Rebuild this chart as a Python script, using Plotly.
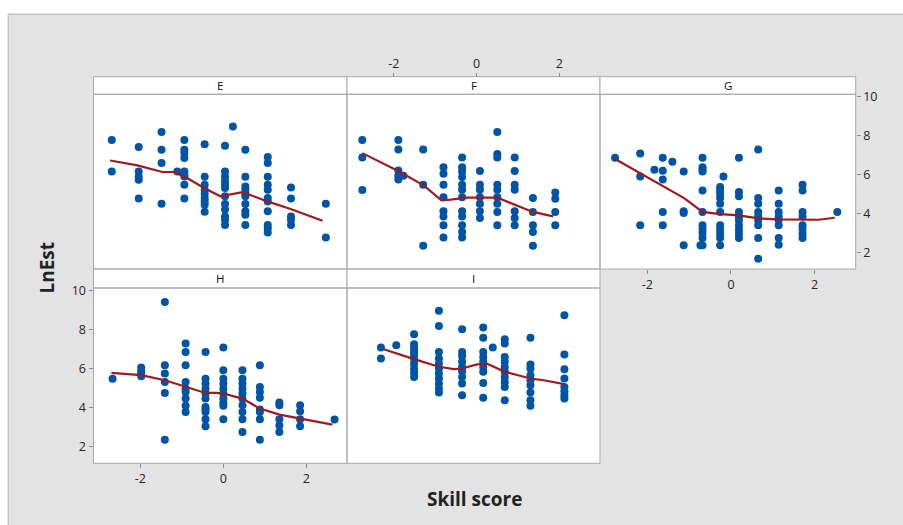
import plotly.graph_objects as go

W, H = 903, 525

# ---------------- data ----------------
panel_names = ["E", "F", "G", "H", "I"]

E_cols = [-2.69, -2.04, -1.49, -1.11, -0.94, -0.45, 0.04, 0.23, 0.53, 1.07, 1.63, 2.47]
E_vals = [
    [7.78, 6.17],
    [7.42, 6.17, 5.91, 5.74, 4.78],
    [8.19, 7.28, 6.60, 4.51],
    [6.17],
    [7.78, 7.28, 7.11, 6.86, 6.17, 6.00, 5.91, 5.49, 4.78],
    [7.57, 5.90, 5.49, 5.23, 5.03, 4.80, 4.63, 4.46, 4.10],
    [7.49, 6.17, 5.91, 5.66, 5.49, 5.32, 4.89, 4.50, 4.21, 3.86, 3.69, 3.42],
    [8.48],
    [7.28, 5.90, 5.40, 5.23, 5.03, 4.89, 4.50, 4.12, 3.95, 3.42],
    [6.91, 6.60, 5.90, 5.49, 5.23, 4.80, 4.63, 4.12, 3.42, 3.25, 3.03],
    [5.35, 4.78, 3.86, 3.69, 3.42],
    [4.51, 2.78],
]
E_fit_x = [-2.73, -2.07, -1.47, -1.19, -0.87, -0.47, -0.07, 0.18, 0.46, 1.06, 1.62, 2.39]
E_fit_y = [6.73, 6.48, 6.14, 6.14, 5.83, 5.32, 4.89, 4.98, 5.11, 4.63, 4.24, 3.64]

F_cols = [-2.76, -1.89, -1.77, -1.29, -0.80, -0.35, 0.08, 0.50, 0.92, 1.36, 1.90]
F_vals = [
    [7.78, 6.89, 5.21],
    [7.78, 7.30, 6.22, 5.95, 5.76],
    [5.95],
    [7.30, 5.49, 2.36],
    [6.39, 6.05, 5.49, 4.84, 4.12, 3.86, 3.40, 2.78],
    [6.89, 6.39, 6.17, 5.88, 5.49, 5.23, 4.84, 4.12, 3.86, 3.40, 3.06, 2.78],
    [6.19, 5.49, 5.23, 4.84, 4.51, 4.12, 3.78],
    [8.19, 7.06, 6.89, 5.49, 5.23, 4.84, 4.51, 4.09, 3.40],
    [6.89, 6.19, 5.49, 5.23, 4.12, 3.78, 3.40],
    [4.80, 4.09, 3.40, 3.06, 2.36],
    [5.09, 4.77, 4.09, 3.40],
]
F_fit_x = [-2.76, -1.87, -1.27, -0.85, -0.63, -0.23, 0.50, 0.92, 1.36, 1.85]
F_fit_y = [7.11, 6.17, 5.44, 4.68, 4.72, 4.82, 4.82, 4.46, 4.09, 3.86]

G_cols = [-2.77, -2.17, -1.83, -1.63, -1.40, -1.13, -0.73, -0.68, -0.26, -0.18, 0.19, 0.65, 1.14, 1.71, 2.54]
G_vals = [
    [6.87],
    [7.09, 5.91, 3.40],
    [6.26],
    [6.87, 6.21, 5.76, 4.09, 3.40],
    [6.67],
    [6.17, 4.12, 4.04, 2.38],
    [2.38],
    [6.87, 6.39, 6.26, 6.17, 5.19, 4.09, 3.40, 3.22, 3.01, 2.75, 2.38],
    [5.37, 5.19, 5.03, 4.80, 4.51, 4.09, 3.40, 3.18, 2.97, 2.75, 2.38],
    [5.91],
    [6.87, 5.11, 4.89, 4.09, 3.86, 3.66, 3.40, 3.18, 2.97, 2.75],
    [7.30, 4.80, 4.51, 4.09, 3.86, 3.66, 3.40, 2.75, 1.68],
    [5.19, 4.51, 4.09, 3.86, 3.66, 3.40, 2.75, 2.41],
    [5.49, 5.19, 4.09, 3.86, 3.40, 3.22, 2.97, 2.75],
    [4.09],
]
G_fit_x = [-2.77, -2.17, -1.63, -1.12, -0.68, -0.26, 0.19, 0.65, 1.14, 1.71, 2.09, 2.48]
G_fit_y = [6.81, 6.09, 5.40, 4.80, 4.09, 3.98, 3.91, 3.76, 3.71, 3.71, 3.69, 3.79]

H_cols = [-2.67, -1.98, -1.41, -0.91, -0.43, 0.00, 0.46, 0.88, 1.35, 1.85, 2.68]
H_vals = [
    [5.48],
    [6.06, 5.87, 5.75, 5.61],
    [9.42, 6.18, 5.75, 5.32, 4.76, 2.36],
    [7.29, 6.86, 6.18, 5.32, 4.98, 4.81, 4.47, 4.10, 3.79],
    [6.86, 5.49, 5.24, 4.98, 4.73, 4.47, 4.04, 3.92, 3.79, 3.41, 3.05],
    [7.08, 5.92, 5.49, 5.24, 4.98, 4.73, 4.47, 4.27, 4.10, 3.41],
    [5.92, 5.49, 5.24, 4.98, 4.73, 4.47, 4.13, 3.79, 3.41, 2.76],
    [6.18, 5.07, 4.81, 4.52, 3.91, 3.79, 3.41, 2.36],
    [4.27, 4.13, 3.41, 3.10, 2.76],
    [4.13, 3.82, 3.41, 3.05],
    [3.40],
]
H_fit_x = [-2.70, -1.98, -1.41, -0.91, -0.43, -0.15, 0.00, 0.46, 0.88, 1.35, 1.85, 2.63]
H_fit_y = [5.79, 5.67, 5.41, 5.07, 4.76, 4.76, 4.73, 4.47, 3.96, 3.65, 3.45, 3.14]

I_cols = [-2.31, -1.94, -1.51, -0.91, -0.35, 0.16, 0.39, 0.68, 1.30, 2.12]
I_vals = [
    [7.08, 6.52],
    [7.20],
    [7.76, 7.25, 7.08, 6.90, 6.73, 6.52, 6.27, 6.01, 5.81, 5.58],
    [8.96, 8.19, 6.86, 6.52, 6.27, 6.01, 5.75, 5.50, 5.24, 4.99, 4.78],
    [8.02, 6.86, 6.65, 6.35, 6.09, 5.87, 5.58, 5.24, 4.64],
    [8.11, 7.58, 6.86, 6.60, 6.35, 6.09, 5.84, 5.27, 4.51],
    [7.08],
    [7.51, 7.29, 6.60, 6.35, 6.09, 5.84, 5.58, 5.32, 5.07, 4.39],
    [7.58, 6.21, 6.01, 5.67, 5.41, 5.16, 4.78, 4.39, 4.10],
    [8.74, 6.73, 5.97, 5.50, 5.07, 4.85, 4.64, 4.47],
]
I_fit_x = [-2.24, -1.94, -1.51, -0.91, -0.55, -0.35, 0.01, 0.26, 0.68, 1.30, 1.62, 2.12]
I_fit_y = [7.00, 6.78, 6.49, 6.10, 5.98, 6.01, 6.22, 6.25, 5.84, 5.50, 5.41, 5.21]

x_tickvals = [-2, 0, 2]
x_ticktext = ["-2", "0", "2"]
y_tickvals = [2, 4, 6, 8, 10]
y_ticktext = ["2", "4", "6", "8", "10"]

x_title = "Skill score"
y_title = "LnEst"

# ---------------- layout geometry (pixels) ----------------
X_RANGE = [-3.13, 2.98]
Y_RANGE = [1.16, 10.13]

col_px = [(93.5, 347.0), (347.0, 600.0), (600.0, 855.7)]
row_px = [(94.3, 269.0), (288.0, 463.3)]          # plot-area top, bottom
strip_px = [(76.7, 94.3), (269.0, 288.0)]          # strip top, bottom


def px_x(p):
    return p / W


def px_y(p):
    return 1 - p / H


panels = [
    ("E", E_cols, E_vals, E_fit_x, E_fit_y, 0, 0),
    ("F", F_cols, F_vals, F_fit_x, F_fit_y, 1, 0),
    ("G", G_cols, G_vals, G_fit_x, G_fit_y, 2, 0),
    ("H", H_cols, H_vals, H_fit_x, H_fit_y, 0, 1),
    ("I", I_cols, I_vals, I_fit_x, I_fit_y, 1, 1),
]

BLUE = "#0054a6"
RED = "#9b1b1f"
FRAME = "#a9a9a9"
TICKC = "#8c8c8c"
TXT = "#262626"
FONT = "Open Sans, Noto Sans, DejaVu Sans, sans-serif"

fig = go.Figure()
layout = dict(
    template="none",
    width=W, height=H,
    margin=dict(l=0, r=0, t=0, b=0, pad=0, autoexpand=False),
    paper_bgcolor="#e3e3e3",
    plot_bgcolor="white",
    showlegend=False,
    font=dict(family=FONT, size=12, color=TXT),
)

shapes = []
annotations = []

# white outer margin and grey frame border
shapes.append(dict(type="rect", xref="paper", yref="paper", x0=0, x1=1,
                   y0=px_y(14.3), y1=1, fillcolor="white", line_width=0, layer="below"))
shapes.append(dict(type="rect", xref="paper", yref="paper", x0=0, x1=px_x(8.3),
                   y0=0, y1=1, fillcolor="white", line_width=0, layer="below"))
shapes.append(dict(type="line", xref="paper", yref="paper", x0=px_x(8.3), x1=1.01,
                   y0=px_y(14.3), y1=px_y(14.3), line=dict(color="#c4c4c4", width=1.5)))
shapes.append(dict(type="line", xref="paper", yref="paper", x0=px_x(8.3), x1=px_x(8.3),
                   y0=-0.01, y1=px_y(14.3), line=dict(color="#c4c4c4", width=1.5)))

for i, (name, cols, vals, fx, fy, c, r) in enumerate(panels):
    k = "" if i == 0 else str(i + 1)
    xs, ys = [], []
    for cx, vv in zip(cols, vals):
        xs += [cx] * len(vv)
        ys += vv
    fig.add_trace(go.Scatter(x=xs, y=ys, mode="markers", xaxis="x" + k, yaxis="y" + k,
                             marker=dict(color=BLUE, size=8, line=dict(width=0)),
                             hoverinfo="skip"))
    fig.add_trace(go.Scatter(x=fx, y=fy, mode="lines", xaxis="x" + k, yaxis="y" + k,
                             line=dict(color=RED, width=2.2), hoverinfo="skip"))

    xd = [px_x(col_px[c][0]), px_x(col_px[c][1])]
    yd = [px_y(row_px[r][1]), px_y(row_px[r][0])]
    xa = dict(domain=xd, range=X_RANGE, anchor="y" + k, showgrid=False, zeroline=False,
              showline=False, ticks="", showticklabels=False, fixedrange=True,
              automargin=False)
    ya = dict(domain=yd, range=Y_RANGE, anchor="x" + k, showgrid=False, zeroline=False,
              showline=False, ticks="", showticklabels=False, fixedrange=True,
              automargin=False)
    tick_style = dict(ticks="outside", ticklen=4, tickwidth=1, tickcolor=TICKC,
                      showticklabels=True, tickfont=dict(size=12.5, color=TXT))
    if name == "F":
        xa.update(tick_style, anchor="free", position=px_y(strip_px[0][0]), side="top",
                  tickvals=x_tickvals, ticktext=x_ticktext)
    if name in ("G", "H"):
        xa.update(tick_style, side="bottom", tickvals=x_tickvals, ticktext=x_ticktext)
    if name == "G":
        ya.update(tick_style, side="right", tickvals=y_tickvals, ticktext=y_ticktext)
    if name == "H":
        ya.update(tick_style, side="left", tickvals=y_tickvals, ticktext=y_ticktext)
    layout["xaxis" + k] = xa
    layout["yaxis" + k] = ya

    # panel frame
    shapes.append(dict(type="rect", xref="paper", yref="paper",
                       x0=xd[0], x1=xd[1], y0=yd[0], y1=yd[1],
                       line=dict(color=FRAME, width=1), layer="above"))
    # strip
    s0, s1 = strip_px[r]
    shapes.append(dict(type="rect", xref="paper", yref="paper",
                       x0=xd[0], x1=xd[1], y0=px_y(s1), y1=px_y(s0),
                       fillcolor="white", line=dict(color=FRAME, width=1), layer="below"))
    annotations.append(dict(text=name, xref="paper", yref="paper",
                            x=(xd[0] + xd[1]) / 2, y=px_y((s0 + s1) / 2),
                            xanchor="center", yanchor="middle", showarrow=False,
                            font=dict(size=11.5, color="#111")))

annotations.append(dict(text="<b>" + x_title + "</b>", xref="paper", yref="paper",
                        x=px_x(474), y=px_y(499), xanchor="center", yanchor="middle",
                        showarrow=False, font=dict(size=19, color="#222")))
annotations.append(dict(text="<b>" + y_title + "</b>", xref="paper", yref="paper",
                        x=px_x(46.5), y=px_y(268), xanchor="center", yanchor="middle",
                        textangle=-90, showarrow=False, font=dict(size=19, color="#222")))

layout["shapes"] = shapes
layout["annotations"] = annotations
fig.update_layout(**layout)

# remove the browser's default page margin so the figure sits at (0, 0)
page_fix = ("document.documentElement.style.margin='0';"
            "document.body.style.margin='0';document.body.style.padding='0';"
            "document.body.style.overflow='hidden';")
fig.write_html("out.html", config={"displayModeBar": False}, post_script=page_fix)
